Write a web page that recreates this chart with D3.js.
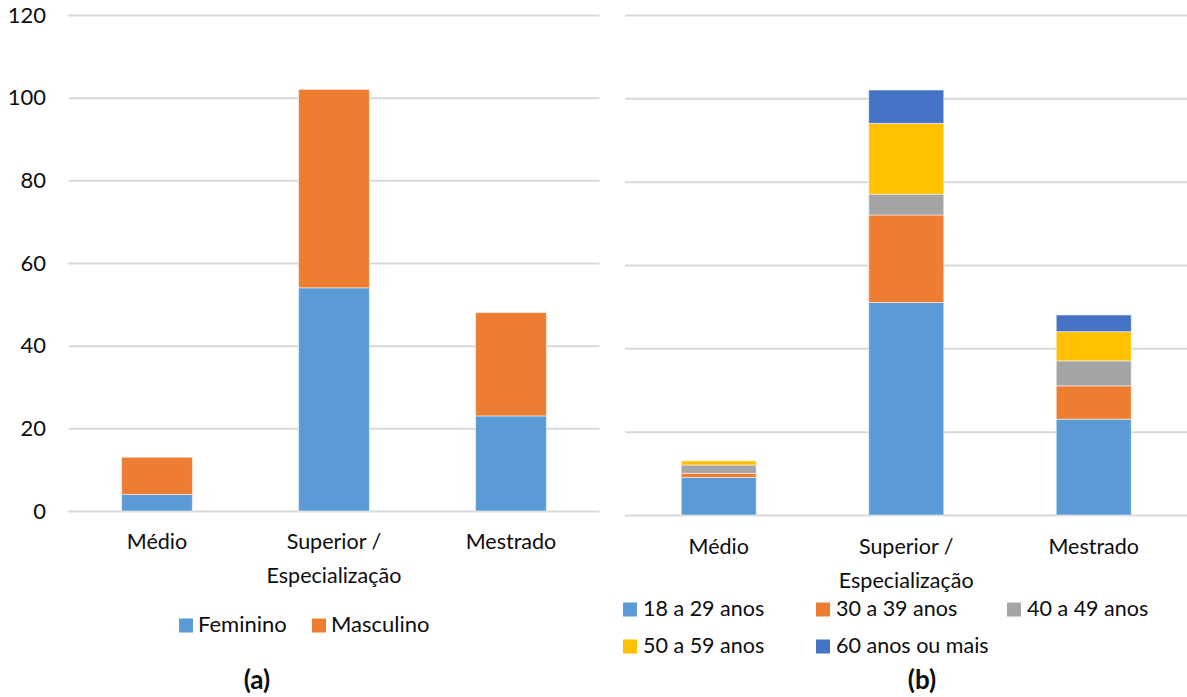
<!DOCTYPE html>
<html>
<head>
<meta charset="utf-8">
<script src="https://cdn.jsdelivr.net/npm/d3@7"></script>
<style>
  html, body { margin: 0; padding: 0; background: #fff; }
  svg { display: block; }
  text { font-family: Lato, "Open Sans", sans-serif; fill: #0d0d0d; }
</style>
</head>
<body>
<svg id="chart" width="1187" height="697"></svg>
<script>
// Education level categories shared by both panels
const categories = ["Médio", "Superior / Especialização", "Mestrado"];
const yTicks = [0, 20, 40, 60, 80, 100, 120];

// Panel (a): by gender
const genderSeries = ["Feminino", "Masculino"];
const feminino = [4, 54, 23];
const masculino = [9, 48, 25];
const genderColors = ["#5B9BD5", "#ED7D31"];

// Panel (b): by age group
const ageSeries = ["18 a 29 anos", "30 a 39 anos", "40 a 49 anos", "50 a 59 anos", "60 anos ou mais"];
const age18to29 = [9, 51, 23];
const age30to39 = [1, 21, 8];
const age40to49 = [2, 5, 6];
const age50to59 = [1, 17, 7];
const age60plus = [0, 8, 4];
const ageColors = ["#5B9BD5", "#ED7D31", "#A5A5A5", "#FFC000", "#4472C4"];

const svg = d3.select("#chart");

function buildRows(seriesNames, seriesValues) {
  return categories.map((c, i) => {
    const row = { category: c };
    seriesNames.forEach((s, j) => { row[s] = seriesValues[j][i]; });
    return row;
  });
}

function drawPanel(opts) {
  const { x0, x1, y0, y1, seriesNames, seriesValues, colors, showYLabels, labelY } = opts;
  const g = svg.append("g");

  const x = d3.scaleBand().domain(categories).range([x0, x1]).paddingInner(0.6).paddingOuter(0.3);
  const y = d3.scaleLinear().domain([0, 120]).range([y0, y1]);

  // horizontal gridlines
  g.append("g")
    .attr("transform", `translate(${x0},0)`)
    .call(d3.axisLeft(y).tickValues(yTicks).tickSize(-(x1 - x0)).tickFormat(""))
    .call(a => a.select(".domain").remove())
    .call(a => a.selectAll("line").attr("stroke", "#D9D9D9").attr("stroke-width", 2));

  if (showYLabels) {
    g.append("g")
      .attr("transform", `translate(46,0)`)
      .call(d3.axisLeft(y).tickValues(yTicks).tickSize(0).tickPadding(0))
      .call(a => a.select(".domain").remove())
      .call(a => a.selectAll("text")
        .style("font-family", "Lato, sans-serif")
        .attr("font-size", 22).attr("fill", "#0d0d0d"));
  }

  const rows = buildRows(seriesNames, seriesValues);
  const stacked = d3.stack().keys(seriesNames)(rows);

  g.append("g").selectAll("g")
    .data(stacked)
    .join("g")
    .attr("fill", (d, i) => colors[i])
    .selectAll("rect")
    .data(d => d.filter(p => p[1] - p[0] > 0))
    .join("rect")
    .attr("x", d => x(d.data.category))
    .attr("width", x.bandwidth())
    .attr("y", d => y(d[1]))
    .attr("height", d => y(d[0]) - y(d[1]))
    .attr("stroke", "#ffffff")
    .attr("stroke-opacity", 0.5)
    .attr("stroke-width", 1);

  // category labels, wrapped after the slash
  const lab = g.append("g");
  categories.forEach(c => {
    const parts = c.includes("/ ") ? [c.slice(0, c.indexOf("/ ") + 1), c.slice(c.indexOf("/ ") + 2)] : [c];
    const t = lab.append("text")
      .attr("x", x(c) + x.bandwidth() / 2)
      .attr("y", labelY)
      .attr("text-anchor", "middle")
      .attr("font-size", 21.5);
    parts.forEach((p, i) => {
      t.append("tspan").attr("x", x(c) + x.bandwidth() / 2).attr("dy", i === 0 ? 0 : 34).text(p);
    });
  });
  return { x, y };
}

drawPanel({
  x0: 68.5, x1: 599.5, y0: 511, y1: 15,
  seriesNames: genderSeries, seriesValues: [feminino, masculino],
  colors: genderColors, showYLabels: true, labelY: 549
});

drawPanel({
  x0: 625, x1: 1187.5, y0: 515, y1: 15,
  seriesNames: ageSeries, seriesValues: [age18to29, age30to39, age40to49, age50to59, age60plus],
  colors: ageColors, showYLabels: false, labelY: 554
});

// Legend (a)
const legA = svg.append("g");
const legAPos = [179, 312];
genderSeries.forEach((s, i) => {
  legA.append("rect").attr("x", legAPos[i]).attr("y", 618.5).attr("width", 14).attr("height", 14).attr("fill", genderColors[i]);
  legA.append("text").attr("x", legAPos[i] + 19).attr("y", 631.5).attr("font-size", 22).text(s);
});

// Legend (b)
const legB = svg.append("g");
const legBCols = [623, 816, 1007];
const legBRows = [602.5, 639.5];
ageSeries.forEach((s, i) => {
  const cx = legBCols[i % 3];
  const cy = legBRows[Math.floor(i / 3)];
  legB.append("rect").attr("x", cx).attr("y", cy).attr("width", 14).attr("height", 14).attr("fill", ageColors[i]);
  legB.append("text").attr("x", cx + 20).attr("y", cy + 13.5).attr("font-size", 21.5).text(s);
});

// Panel captions
svg.append("text").attr("x", 257).attr("y", 689).attr("text-anchor", "middle")
  .attr("font-size", 26).attr("font-weight", "bold").text("(a)");
svg.append("text").attr("x", 922).attr("y", 689).attr("text-anchor", "middle")
  .attr("font-size", 26).attr("font-weight", "bold").text("(b)");
</script>
</body>
</html>
